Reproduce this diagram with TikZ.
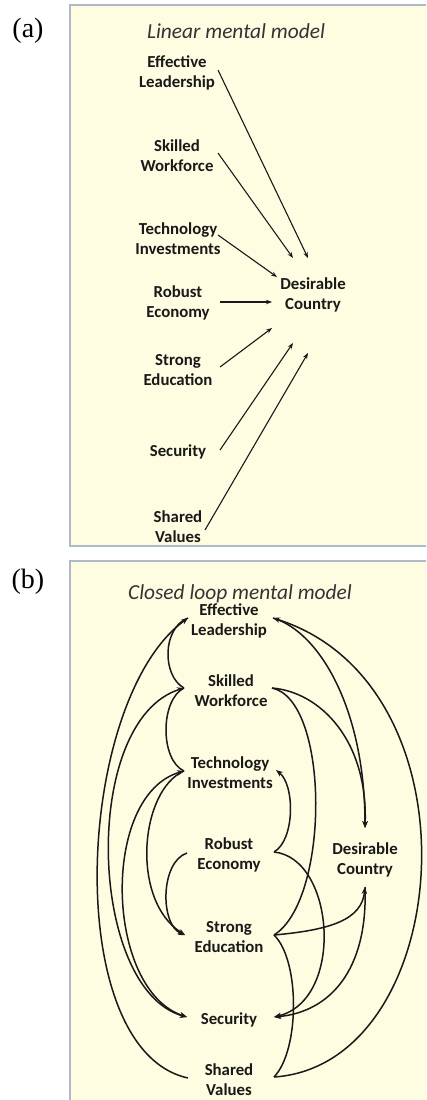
\documentclass[tikz,border=0pt]{standalone}
\usepackage{fontspec}
\setmainfont{Carlito}
\newfontfamily\tagfont{Liberation Serif}
\usetikzlibrary{arrows.meta}
\definecolor{panelfill}{RGB}{254,253,226}
\definecolor{panelborder}{RGB}{172,186,202}
\definecolor{inkc}{RGB}{25,25,25}
\tikzset{
  lab/.style={font=\bfseries\fontsize{16.8}{20}\selectfont, align=center, inner sep=0pt, text=inkc},
  ttl/.style={font=\itshape\fontsize{21.4}{24}\selectfont, inner sep=0pt, text=black!80},
  tag/.style={font=\tagfont\fontsize{28}{30}\selectfont, inner sep=0pt},
  panel/.style={fill=panelfill, draw=panelborder, line width=2pt},
  lin/.style={draw=inkc, line width=1.1pt, -{Stealth[length=6pt,width=4.5pt]}},
  cur/.style={draw=inkc, line width=1.5pt},
  cura/.style={cur, -{Stealth[length=7pt,width=5.5pt]}},
  curb/.style={cur, {Stealth[length=7pt,width=5.5pt]}-{Stealth[length=7pt,width=5.5pt]}}
}
\begin{document}
\begin{tikzpicture}[x=1pt,y=-1pt]
\useasboundingbox (0,0) rectangle (426,1100);
\clip (0,0) rectangle (426,1100);
\fill[white] (0,0) rectangle (426,1100);
% panels
\draw[panel] (70,5) rectangle (445,546);
\draw[panel] (70,561) rectangle (445,1115);
% ---------- panel (a)
\node[tag] (taga) at (28,31) {(a)};
\node[ttl] (ttla) at (236,31) {Linear mental model};
\node[lab] (ela) at (177,73) {Effective\\Leadership};
\node[lab] (swa) at (177,156) {Skilled\\Workforce};
\node[lab] (tia) at (178,239) {Technology\\Investments};
\node[lab] (dca) at (313,295) {Desirable\\Country};
\node[lab] (rea) at (178,303) {Robust\\Economy};
\node[lab] (sea) at (178,370) {Strong\\Education};
\node[lab] (sca) at (178,452) {Security};
\node[lab] (sva) at (178,527) {Shared\\Values};
\coordinate (elas) at (218,70);   \coordinate (elae) at (308,258);
\coordinate (swas) at (218,153);  \coordinate (swae) at (293,258);
\coordinate (tias) at (218,235);  \coordinate (tiae) at (277,277);
\coordinate (reas) at (220,302);  \coordinate (reae) at (272,302);
\coordinate (seas) at (220,367);  \coordinate (seae) at (272,328);
\coordinate (scas) at (220,450);  \coordinate (scae) at (293,343);
\coordinate (svas) at (205,530);  \coordinate (svae) at (308,353);
\draw[lin] (elas) -- (elae);
\draw[lin] (swas) -- (swae);
\draw[lin] (tias) -- (tiae);
\draw[lin] (reas) -- (reae);
\draw[lin] (seas) -- (seae);
\draw[lin] (scas) -- (scae);
\draw[lin] (svas) -- (svae);
% ---------- panel (b)
\node[tag] (tagb) at (28,582) {(b)};
\node[ttl] (ttlb) at (240,594) {Closed loop mental model};
\node[lab] (el) at (229,621) {Effective\\Leadership};
\node[lab] (sw) at (231,691) {Skilled\\Workforce};
\node[lab] (ti) at (230,773) {Technology\\Investments};
\node[lab] (re) at (229,855) {Robust\\Economy};
\node[lab] (dc) at (365,860) {Desirable\\Country};
\node[lab] (se) at (229,937) {Strong\\Education};
\node[lab] (sc) at (229,1020) {Security};
\node[lab] (sv) at (229,1080) {Shared\\Values};
% anchor points
\coordinate (elL) at (188,618); \coordinate (elR) at (273,618);
\coordinate (swL) at (184,688); \coordinate (swR) at (272,688);
\coordinate (tiL) at (184,771); \coordinate (tiR) at (276,770);
\coordinate (reL) at (187,853); \coordinate (reR) at (274,852);
\coordinate (dcT) at (365,828); \coordinate (dcB) at (365,887);
\coordinate (seL) at (185,935); \coordinate (seR) at (274,935);
\coordinate (scL) at (187,1017); \coordinate (scR) at (274,1017);
\coordinate (svL) at (188,1078); \coordinate (svR) at (274,1077);
% left side
\draw[cur] (elL) .. controls (162,628) and (162,676) .. (swL);
\draw[cur] (swL) .. controls (160,700) and (160,760) .. (tiL);
\draw[cura] (svL) .. controls (60,1050) and (75,700) .. (elL);
\draw[curb] (swL) .. controls (80,720) and (88,990) .. (scL);
\draw[cura] (tiL) .. controls (140,790) and (130,900) .. (seL);
\draw[curb] (tiL) .. controls (100,795) and (105,990) .. (scL);
\draw[cura] (reL) .. controls (160,862) and (160,925) .. (seL);
% right side
\draw[cura] (svR) .. controls (455,1065) and (485,685) .. (elR);
\draw[cura] (elR) .. controls (320,632) and (365,710) .. (dcT);
\draw[cura] (swR) .. controls (320,692) and (368,740) .. (dcT);
\draw[cur] (swR) .. controls (330,700) and (330,900) .. (seR);
\draw[cura] (seR) .. controls (330,930) and (362,920) .. (dcB);
\draw[cura] (dcB) .. controls (368,970) and (330,1012) .. (scR);
\draw[cura] (reR) .. controls (335,858) and (345,1000) .. (scR);
\draw[cura] (reR) .. controls (295,840) and (295,785) .. (tiR);
\draw[cur] (seR) .. controls (300,960) and (300,1050) .. (svR);
\end{tikzpicture}
\end{document}
